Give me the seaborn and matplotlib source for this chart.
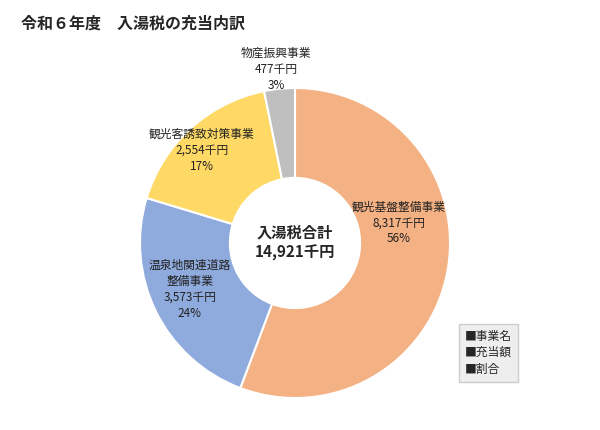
import matplotlib
matplotlib.use("Agg")
import matplotlib.pyplot as plt
import seaborn as sns

sns.set_theme(style="white")
plt.rcParams['font.family'] = ['Noto Sans CJK JP', 'DejaVu Sans']

names = ["観光基盤整備事業", "温泉地関連道路\n整備事業", "観光客誘致対策事業", "物産振興事業"]
values = [8317, 3573, 2554, 477]
amount_labels = ["8,317千円", "3,573千円", "2,554千円", "477千円"]
pct_labels = ["56%", "24%", "17%", "3%"]
colors = ["#F4B183", "#8FAADC", "#FFD966", "#BFBFBF"]

fig = plt.figure(figsize=(6, 4.3), dpi=100)
ax = fig.add_axes([(295-155)/600, 1-(243+155)/430, 310/600, 310/430])
wedges, _ = ax.pie(values, colors=colors, startangle=90, counterclock=False,
                   wedgeprops=dict(width=0.58, edgecolor="white", linewidth=1.5))
ax.set_xlim(-1, 1)
ax.set_ylim(-1, 1)
ax.set_aspect("equal")

pos = [(0.67, 0.13), (-0.68, -0.3), (-0.6, 0.6), (-0.12, 1.12)]
for (x, y), n, a, p in zip(pos, names, amount_labels, pct_labels):
    ax.text(x, y, f"{n}\n{a}\n{p}", ha="center", va="center", fontsize=8.5,
            color="#222222", linespacing=1.3, clip_on=False)

ax.text(0, 0, "入湯税合計\n14,921千円", ha="center", va="center", fontsize=11, fontweight="bold", linespacing=1.3)

fig.text(0.035, 0.945, "令和６年度　入湯税の充当内訳", fontsize=11.5, fontweight="bold", va="center")
fig.text(0.775, 0.18, "■事業名\n■充当額\n■割合", fontsize=8.5, va="center", linespacing=1.35,
         bbox=dict(boxstyle="square,pad=0.5", facecolor="#EEEEEE", edgecolor="#CCCCCC"))

fig.savefig("out.png", dpi=100)
